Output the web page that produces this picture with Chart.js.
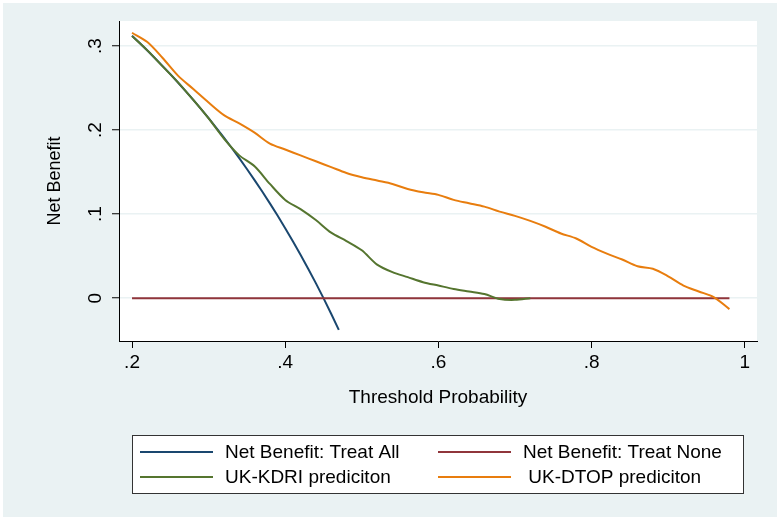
<!DOCTYPE html>
<html>
<head>
<meta charset="utf-8">
<script src="https://cdn.jsdelivr.net/npm/chart.js@4"></script>
<style>
  body { margin: 0; background: #fff; }
  canvas { display: block; }
</style>
</head>
<body>
<canvas id="dcaChart" width="780" height="521"></canvas>
<script>
// series data
const thresholdAll = [0.20, 0.21, 0.22, 0.23, 0.24, 0.25, 0.26, 0.27, 0.28, 0.29, 0.30, 0.31, 0.32, 0.33,
    0.34, 0.35, 0.36, 0.37, 0.38, 0.39, 0.40, 0.41, 0.42, 0.43, 0.44, 0.45, 0.46, 0.47];
const netBenefitAll = [0.3125, 0.3038, 0.2949, 0.2857, 0.2763, 0.2667, 0.2568, 0.2466, 0.2361, 0.2254,
    0.2143, 0.2029, 0.1912, 0.1791, 0.1667, 0.1538, 0.1406, 0.1270, 0.1129, 0.0984, 0.0833, 0.0678,
    0.0517, 0.0351, 0.0179, 0.0000, -0.0185, -0.0377];

const thresholdNone = [0.20, 0.98];
const netBenefitNone = [0, 0];

const thresholdKdri = [0.20, 0.22, 0.24, 0.26, 0.28, 0.30, 0.32, 0.34, 0.36, 0.38, 0.40, 0.42, 0.44,
    0.46, 0.48, 0.50, 0.52, 0.54, 0.56, 0.58, 0.60, 0.62, 0.64, 0.66, 0.68, 0.70, 0.72];
const netBenefitKdri = [0.312, 0.295, 0.276, 0.257, 0.236, 0.214, 0.190, 0.170, 0.157, 0.136, 0.117,
    0.106, 0.093, 0.078, 0.068, 0.057, 0.040, 0.031, 0.025, 0.019, 0.015, 0.011, 0.008, 0.005, -0.001,
    -0.002, 0.000];

const thresholdDtop = [0.20, 0.22, 0.24, 0.26, 0.28, 0.30, 0.32, 0.34, 0.36, 0.38, 0.40, 0.42, 0.44,
    0.46, 0.48, 0.50, 0.52, 0.54, 0.56, 0.58, 0.60, 0.62, 0.64, 0.66, 0.68, 0.70, 0.72, 0.74, 0.76,
    0.78, 0.80, 0.82, 0.84, 0.86, 0.88, 0.90, 0.92, 0.94, 0.96, 0.98];
const netBenefitDtop = [0.316, 0.305, 0.286, 0.265, 0.249, 0.233, 0.218, 0.208, 0.197, 0.184, 0.177,
    0.170, 0.163, 0.156, 0.149, 0.144, 0.140, 0.136, 0.130, 0.126, 0.123, 0.117, 0.113, 0.109, 0.103,
    0.098, 0.092, 0.085, 0.077, 0.071, 0.061, 0.053, 0.046, 0.038, 0.035, 0.026, 0.015, 0.008, 0.001,
    -0.013];

const seriesLabels = ['Net Benefit: Treat All', 'Net Benefit: Treat None', 'UK-KDRI prediciton', ' UK-DTOP prediciton'];
const seriesColors = ['#1a476f', '#90353b', '#55752f', '#e87d0e'];

const xTickValues = [0.2, 0.4, 0.6, 0.8, 1];
const xTickLabels = ['.2', '.4', '.6', '.8', '1'];
const yTickValues = [0, 0.1, 0.2, 0.3];
const yTickLabels = ['0', '.1', '.2', '.3'];

const FONT = { family: '"Liberation Sans", Arial, sans-serif', size: 19 };
const BG = '#eaf2f3';

function toPoints(xs, ys) {
    return xs.map((x, i) => ({ x: x, y: ys[i] }));
}

// background + plot region
const backdrop = {
    id: 'backdrop',
    beforeDraw(chart) {
        const ctx = chart.ctx;
        const a = chart.chartArea;
        ctx.save();
        ctx.fillStyle = '#fff';
        ctx.fillRect(0, 0, chart.width, chart.height);
        ctx.fillStyle = BG;
        ctx.fillRect(3, 3, 774, 514);
        ctx.fillStyle = '#fff';
        ctx.fillRect(a.left, a.top, a.right - a.left, a.bottom - a.top);
        ctx.restore();
    }
};

// rotated y tick labels, stata style
const yLabels = {
    id: 'yLabels',
    afterDraw(chart) {
        const ctx = chart.ctx;
        const yScale = chart.scales.y;
        ctx.save();
        ctx.font = FONT.size + 'px ' + FONT.family;
        ctx.fillStyle = '#000';
        ctx.textAlign = 'center';
        ctx.textBaseline = 'middle';
        yTickValues.forEach((v, i) => {
            ctx.save();
            ctx.translate(96, yScale.getPixelForValue(v));
            ctx.rotate(-Math.PI / 2);
            ctx.fillText(yTickLabels[i], 0, 0);
            ctx.restore();
        });
        ctx.restore();
    }
};

// boxed legend, two columns
const boxLegend = {
    id: 'boxLegend',
    afterDraw(chart) {
        const ctx = chart.ctx;
        ctx.save();
        ctx.fillStyle = '#fff';
        ctx.fillRect(132, 435, 612, 58);
        ctx.strokeStyle = '#333';
        ctx.lineWidth = 1;
        ctx.strokeRect(132.5, 435.5, 611, 58);
        ctx.font = FONT.size + 'px ' + FONT.family;
        ctx.textBaseline = 'middle';
        const colX = [140, 438];
        const rowY = [452, 477];
        chart.data.datasets.forEach((ds, i) => {
            const x = colX[i % 2];
            const y = rowY[Math.floor(i / 2)];
            ctx.strokeStyle = ds.borderColor;
            ctx.lineWidth = 2;
            ctx.beginPath();
            ctx.moveTo(x, y);
            ctx.lineTo(x + 73, y);
            ctx.stroke();
            ctx.fillStyle = '#000';
            ctx.fillText(ds.label, x + 85, y + 1);
        });
        ctx.restore();
    }
};

const datasets = [
    { data: toPoints(thresholdAll, netBenefitAll), order: 4, tension: 0 },
    { data: toPoints(thresholdNone, netBenefitNone), order: 3, tension: 0 },
    { data: toPoints(thresholdKdri, netBenefitKdri), order: 2, tension: 0.3 },
    { data: toPoints(thresholdDtop, netBenefitDtop), order: 1, tension: 0.3 }
].map((d, i) => Object.assign(d, {
    label: seriesLabels[i],
    borderColor: seriesColors[i],
    backgroundColor: seriesColors[i],
    borderWidth: 2,
    pointRadius: 0,
    showLine: true,
    fill: false
}));

new Chart(document.getElementById('dcaChart'), {
    type: 'scatter',
    data: { datasets: datasets },
    options: {
        responsive: false,
        animation: false,
        layout: { padding: { left: 40, top: 21, right: 23, bottom: 110 } },
        plugins: {
            legend: { display: false },
            tooltip: { enabled: false }
        },
        scales: {
            x: {
                type: 'linear',
                min: 0.183,
                max: 1.016,
                afterBuildTicks: s => { s.ticks = xTickValues.map(v => ({ value: v })); },
                afterFit: s => { s.height = 70; },
                ticks: {
                    autoSkip: false,
                    maxRotation: 0,
                    padding: 3,
                    color: '#000',
                    font: FONT,
                    callback: v => xTickLabels[xTickValues.indexOf(v)]
                },
                grid: { drawOnChartArea: false, tickLength: 7, tickColor: '#000', tickWidth: 1 },
                border: { color: '#000', width: 1 },
                title: {
                    display: true,
                    text: 'Threshold Probability',
                    color: '#000',
                    font: FONT,
                    padding: { top: 0, bottom: 2 }
                }
            },
            y: {
                type: 'linear',
                min: -0.051,
                max: 0.33,
                afterBuildTicks: s => { s.ticks = yTickValues.map(v => ({ value: v })); },
                afterFit: s => { s.width = 79; },
                ticks: { display: false },
                grid: { color: BG, lineWidth: 1.5, tickLength: 7, tickColor: '#000', tickWidth: 1 },
                border: { color: '#000', width: 1 },
                title: {
                    display: true,
                    text: 'Net Benefit',
                    color: '#000',
                    font: { family: FONT.family, size: 18 },
                    padding: { top: 4, bottom: 0 }
                }
            }
        }
    },
    plugins: [backdrop, yLabels, boxLegend]
});
</script>
</body>
</html>
